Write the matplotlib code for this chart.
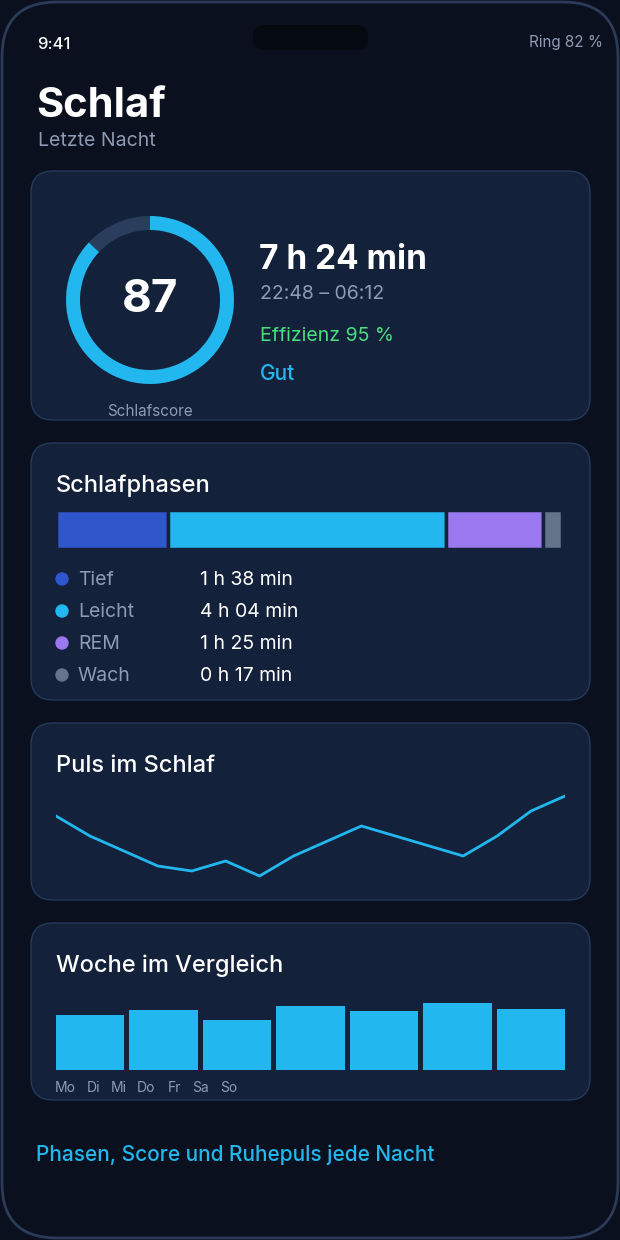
import matplotlib
matplotlib.use("Agg")
import matplotlib.pyplot as plt
from matplotlib.patches import FancyBboxPatch, Wedge
import numpy as np

plt.rcParams['font.family'] = ['Inter', 'DejaVu Sans']

# ---- data ----
score = 87
duration = "7 h 24 min"
time_range = "22:48 – 06:12"
efficiency = "Effizienz 95 %"
rating = "Gut"
phase_names = ["Tief", "Leicht", "REM", "Wach"]
phase_minutes = [98, 244, 85, 17]
phase_labels = ["1 h 38 min", "4 h 04 min", "1 h 25 min", "0 h 17 min"]
pulse_bpm = [58, 54, 51, 48, 47, 49, 46, 50, 53, 56, 54, 52, 50, 54, 59, 62]
week_days = ["Mo", "Di", "Mi", "Do", "Fr", "Sa", "So"]
week_hours = [6.6, 7.2, 6.0, 7.7, 7.0, 8.0, 7.3]

BG = "#0a101d"
CARD = "#14213a"
CARD_EDGE = "#263a5c"
CYAN = "#22b8ef"
phase_colors = ["#3056cc", CYAN, "#9a78f0", "#64748b"]
MUTED = "#8f9bb3"
W, H = 620, 1240

fig = plt.figure(figsize=(6.2, 12.4), dpi=100)
fig.patch.set_facecolor(BG)
ax = fig.add_axes([0, 0, 1, 1])
ax.set_xlim(0, W); ax.set_ylim(0, H); ax.axis('off')

def Y(y):
    return H - y

def rbox(x0, y0, x1, y1, r, fc, ec, lw=1.0, z=1):
    p = FancyBboxPatch((x0, Y(y1)), x1 - x0, y1 - y0,
                       boxstyle=f"round,pad=0,rounding_size={r}",
                       fc=fc, ec=ec, lw=lw, zorder=z)
    ax.add_patch(p)

def txt(x, y, s, size, color="white", weight="normal", ha="left", va="baseline"):
    ax.text(x, Y(y), s, fontsize=size, color=color, fontweight=weight, ha=ha, va=va, zorder=5)

# phone frame
rbox(2, 2, 618, 1238, 55, BG, "#2b3b58", lw=2)
rbox(253, 25, 368, 50, 12, "#050910", "none", z=2)
txt(37, 49, "9:41", 12, "white", "medium")
txt(603, 47, "Ring 82 %", 11, MUTED, ha="right")
txt(36, 117, "Schlaf", 30, "white", "bold")
txt(38, 146, "Letzte Nacht", 14, MUTED)

# card 1
rbox(31, 171, 590, 420, 22, CARD, CARD_EDGE)
cx, cy, R, wd = 150, Y(300), 84, 14
end = 90 - score / 100 * 360
ax.add_patch(Wedge((cx, cy), R, 90, 90 + (100 - score) / 100 * 360, width=wd, fc="#2a3d5c", ec="none", zorder=3))
ax.add_patch(Wedge((cx, cy), R, end, 90, width=wd, fc=CYAN, ec="none", zorder=3))
txt(150, 300, str(score), 33, "white", "bold", ha="center", va="center")
txt(150, 416, "Schlafscore", 11, MUTED, ha="center")
txt(259, 269, duration, 24, "white", "bold")
txt(260, 299, time_range, 14, MUTED)
txt(260, 341, efficiency, 14, "#4ade80")
txt(260, 380, rating, 15, CYAN, "medium")

# card 2
rbox(31, 443, 590, 700, 22, CARD, CARD_EDGE)
txt(56, 492, "Schlafphasen", 17, "white", "medium")
pax = fig.add_axes([56 / W, 1 - 549 / H, (562 - 56) / W, 39 / H])
pax.set_facecolor(CARD); pax.axis('off')
left = np.concatenate([[0], np.cumsum(phase_minutes)[:-1]])
pax.barh(0, phase_minutes, left=left, color=phase_colors, height=1.0,
         edgecolor=CARD, linewidth=2.5)
pax.set_xlim(0, sum(phase_minutes)); pax.set_ylim(-0.5, 0.5)
for i, (n, l) in enumerate(zip(phase_names, phase_labels)):
    yy = 579 + i * 32
    ax.add_patch(plt.Circle((62, Y(yy)), 6, color=phase_colors[i], zorder=4))
    txt(78, yy + 6, n, 14, MUTED)
    txt(200, yy + 6, l, 14, "white")

# card 3
rbox(31, 723, 590, 900, 22, CARD, CARD_EDGE)
txt(56, 772, "Puls im Schlaf", 17, "white", "medium")
lax = fig.add_axes([56 / W, 1 - 886 / H, (565 - 56) / W, 100 / H])
lax.axis('off')
lax.plot(range(len(pulse_bpm)), pulse_bpm, color=CYAN, lw=2)
lax.set_xlim(0, len(pulse_bpm) - 1); lax.set_ylim(44, 64)

# card 4
rbox(31, 923, 590, 1100, 22, CARD, CARD_EDGE)
txt(56, 972, "Woche im Vergleich", 17, "white", "medium")
bax = fig.add_axes([56 / W, 1 - 1070 / H, (565 - 56) / W, 67 / H])
bax.axis('off')
bax.bar(range(len(week_hours)), week_hours, width=0.93, color=CYAN)
bax.set_xlim(-0.465, len(week_hours) - 1 + 0.465); bax.set_ylim(0, 8.0)
day_x = [55, 87, 111, 137, 168, 192, 220]
for d, xx in zip(week_days, day_x):
    txt(xx, 1092, d, 10, MUTED)

txt(36, 1161, "Phasen, Score und Ruhepuls jede Nacht", 15, CYAN, "medium")

fig.savefig("out.png", dpi=100, facecolor=BG)
